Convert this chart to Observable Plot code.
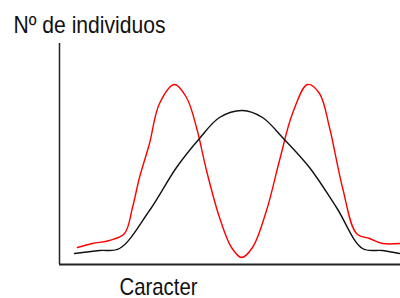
<!DOCTYPE html>
<html>
<head>
<meta charset="utf-8">
<script src="https://cdn.jsdelivr.net/npm/d3@7"></script>
<script src="https://cdn.jsdelivr.net/npm/@observablehq/plot@0.6"></script>
<style>
  html, body { margin: 0; padding: 0; background: #fff; }
</style>
</head>
<body>
<div id="chart"></div>
<script>
// Caracter (x) values and Nº de individuos for each curve
const blackX = [15, 40, 60, 90, 117, 140, 160, 183, 203, 223, 250, 277, 303, 323, 340];
const blackY = [11, 14, 16, 54, 97, 126, 147, 154, 147, 127, 97, 57, 16, 14, 11];

const redX = [18, 33, 50, 65, 73, 80, 90, 100, 115, 127, 137, 147, 160, 172, 182, 193, 207, 220, 233, 248, 260, 270, 283, 297, 310, 323, 340];
const redY = [17, 21, 24, 31, 57, 87, 121, 161, 180, 167, 137, 94, 47, 17, 7, 17, 54, 104, 151, 180, 171, 137, 77, 31, 26, 21, 21];

const yLabel = "Nº de individuos";
const xLabel = "Caracter";

const black = blackX.map((x, i) => ({x, y: blackY[i]}));
const red = redX.map((x, i) => ({x, y: redY[i]}));

const font = "'Liberation Sans Narrow', 'Liberation Sans', Arial, sans-serif";

const chart = Plot.plot({
  width: 400,
  height: 298,
  marginLeft: 59,
  marginRight: 0,
  marginTop: 43,
  marginBottom: 34,
  x: {domain: [0, 341], axis: null},
  y: {domain: [0, 221], axis: null},
  style: {background: "#fff", fontFamily: font},
  marks: [
    Plot.ruleX([0], {stroke: "#222", strokeWidth: 1.5}),
    Plot.ruleY([0], {stroke: "#222", strokeWidth: 2}),
    Plot.line(red, {x: "x", y: "y", stroke: "#ff0000", strokeWidth: 1.4, curve: "catmull-rom"}),
    Plot.line(black, {x: "x", y: "y", stroke: "#111", strokeWidth: 1.4, curve: "catmull-rom"}),
    Plot.text([yLabel], {frameAnchor: "top-left", dx: -46, dy: -11, textAnchor: "start", lineAnchor: "bottom", fontSize: 24, fill: "#111", fontFamily: font, className: "ylab"}),
    Plot.text([xLabel], {frameAnchor: "bottom-left", dx: 60, dy: 30, textAnchor: "start", lineAnchor: "bottom", fontSize: 24, fill: "#111", fontFamily: font, className: "xlab"})
  ]
});
// condense the labels to match the narrow lettering of the original
d3.select(chart).selectAll(".ylab text").attr("textLength", 152).attr("lengthAdjust", "spacingAndGlyphs");
d3.select(chart).selectAll(".xlab text").attr("textLength", 78).attr("lengthAdjust", "spacingAndGlyphs");
document.getElementById("chart").appendChild(chart);
</script>
</body>
</html>
